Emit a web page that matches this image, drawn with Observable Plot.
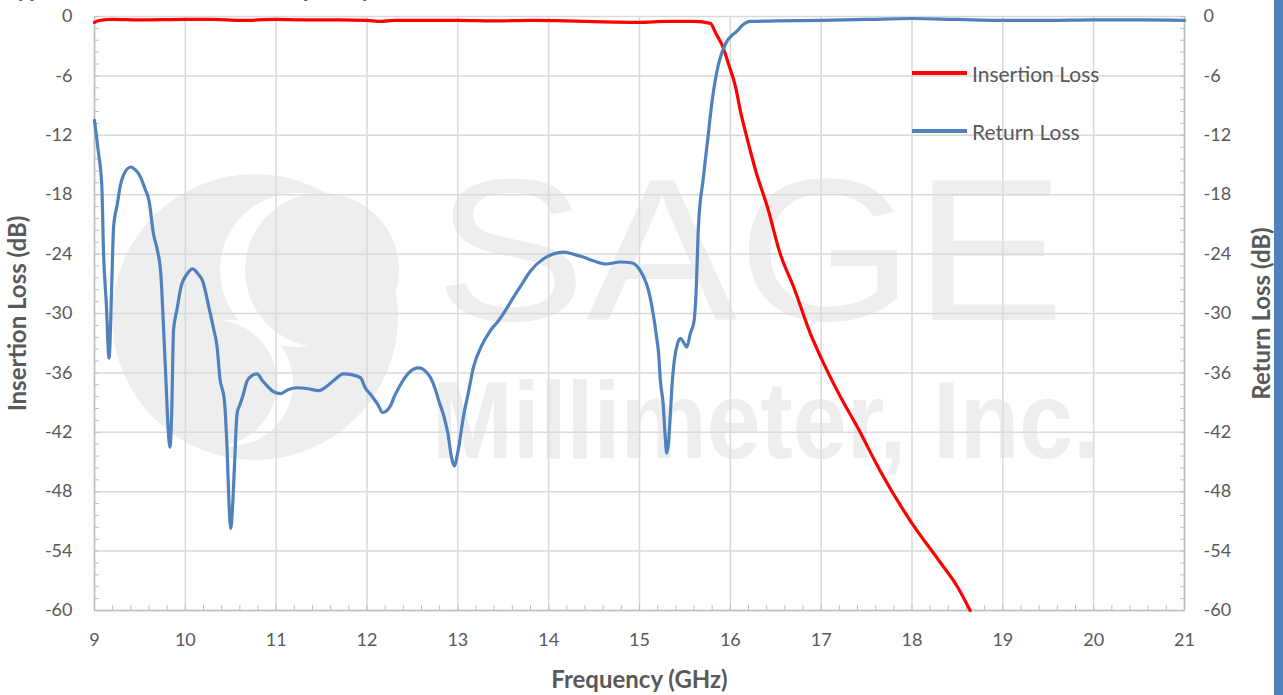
<!DOCTYPE html>
<html>
<head>
<meta charset="utf-8">
<script src="https://cdn.jsdelivr.net/npm/d3@7"></script>
<script src="https://cdn.jsdelivr.net/npm/@observablehq/plot@0.6"></script>
<style>
  html, body { margin: 0; padding: 0; background: #fff; overflow: hidden; }
  #wrap { position: relative; width: 1283px; height: 695px; overflow: hidden; font-family: Lato, "Open Sans", sans-serif; }
  #wm { position: absolute; left: 0; top: 0; }
  #chart { position: absolute; left: 0; top: 0; }
  #title { position: absolute; left: 4px; top: -24px; font: bold 24px Lato, sans-serif; color: #595959; line-height: 24px; white-space: nowrap; }
  #bar { position: absolute; right: 0; top: 0; width: 9px; height: 695px; background: #4F81BD; }
  .leg { position: absolute; left: 912px; font-size: 21px; color: #595959; display: flex; align-items: center; height: 24px; }
  .leg span.sw { display: inline-block; width: 55px; height: 3.5px; margin-right: 5px; }
</style>
</head>
<body>
<div id="wrap">
  <svg id="wm" width="1283" height="695">
    <circle cx="255" cy="317" r="143" fill="#eeeeee"/>
    <circle cx="297" cy="270" r="77" fill="#ffffff"/>
    <circle cx="322" cy="270" r="77" fill="#eeeeee"/>
    <circle cx="230" cy="383" r="63" fill="#ffffff"/>
    <circle cx="214" cy="383" r="63" fill="#eeeeee"/>
    <text x="435" y="320" font-family="Liberation Sans, Arial, sans-serif" font-size="202" fill="#eeeeee" textLength="630" lengthAdjust="spacingAndGlyphs">SAGE</text>
    <text x="432" y="458" font-family="Liberation Sans, Arial, sans-serif" font-weight="bold" font-size="109" fill="#eeeeee" textLength="668" lengthAdjust="spacingAndGlyphs">Millimeter, Inc.</text>
  </svg>
  <div id="chart"></div>
  <div id="title">Typical Performance vs. Frequency</div>
  <div class="leg" style="top:61px"><span class="sw" style="background:#FF0000"></span>Insertion Loss</div>
  <div class="leg" style="top:119px"><span class="sw" style="background:#4F81BD"></span>Return Loss</div>
  <div id="bar"></div>
</div>
<script>
// ---- data ----
const rlFreq = [9.00,9.04,9.08,9.10,9.13,9.16,9.19,9.21,9.25,9.28,9.33,9.40,9.45,9.50,9.56,9.60,9.65,9.69,9.73,9.76,9.79,9.81,9.83,9.85,9.87,9.91,9.95,10.02,10.08,10.14,10.19,10.26,10.31,10.35,10.38,10.43,10.46,10.48,10.50,10.52,10.54,10.57,10.61,10.64,10.68,10.73,10.79,10.85,10.90,10.97,11.05,11.13,11.23,11.35,11.47,11.55,11.63,11.74,11.84,11.93,11.98,12.05,12.12,12.17,12.22,12.26,12.30,12.35,12.46,12.57,12.65,12.70,12.75,12.79,12.85,12.89,12.93,12.96,13.00,13.06,13.12,13.17,13.26,13.36,13.45,13.53,13.61,13.70,13.80,13.94,14.05,14.16,14.27,14.38,14.50,14.63,14.79,14.92,15.01,15.06,15.10,15.15,15.19,15.21,15.23,15.26,15.28,15.30,15.32,15.34,15.36,15.38,15.42,15.45,15.49,15.52,15.56,15.60,15.62,15.65,15.70,15.75,15.80,15.87,15.95,16.03,16.06,16.13,16.22,16.5,17.0,17.5,18.0,18.5,19.0,19.5,20.0,20.5,21.0];
const rlDb = [-10.5,-13.5,-17.0,-24.0,-29.0,-34.5,-27.0,-21.3,-19.0,-17.3,-15.8,-15.2,-15.5,-16.1,-17.5,-18.6,-22.0,-23.5,-26.0,-31.4,-37.5,-41.5,-43.5,-40.0,-31.7,-29.5,-27.4,-26.0,-25.5,-26.0,-26.7,-29.4,-31.5,-33.4,-36.5,-38.8,-43.8,-49.0,-51.7,-49.5,-45.6,-40.1,-39.0,-38.1,-36.8,-36.3,-36.1,-36.8,-37.3,-37.9,-38.1,-37.7,-37.5,-37.6,-37.8,-37.4,-36.8,-36.1,-36.2,-36.5,-37.5,-38.3,-39.2,-40.0,-39.8,-39.3,-38.4,-37.5,-36.0,-35.5,-35.9,-36.5,-37.6,-38.8,-40.5,-42.1,-44.5,-45.4,-44.0,-40.5,-37.8,-35.5,-33.3,-31.7,-30.7,-29.6,-28.4,-27.1,-25.7,-24.5,-24.0,-23.8,-24.0,-24.3,-24.7,-25.0,-24.8,-24.9,-25.7,-26.6,-27.7,-30.0,-32.5,-34.0,-36.8,-39.1,-42.0,-44.1,-43.0,-40.1,-37.0,-35.0,-33.0,-32.5,-33.0,-33.4,-32.0,-30.8,-28.4,-21.0,-16.5,-12.5,-8.5,-4.8,-2.7,-1.8,-1.6,-0.9,-0.5,-0.45,-0.4,-0.3,-0.2,-0.3,-0.4,-0.4,-0.35,-0.35,-0.4];

const ilFreq = [9.00,9.05,9.2,9.5,10.0,10.3,10.6,11.0,11.3,11.7,12.0,12.15,12.3,12.7,13.0,13.4,13.8,14.2,14.6,15.0,15.3,15.6,15.78,15.84,15.91,15.98,16.06,16.11,16.19,16.28,16.41,16.55,16.70,16.88,17.0,17.2,17.4,17.65,18.0,18.3,18.5,18.64];
const ilDb = [-0.6,-0.4,-0.3,-0.35,-0.3,-0.3,-0.4,-0.3,-0.35,-0.35,-0.4,-0.5,-0.4,-0.4,-0.4,-0.45,-0.4,-0.45,-0.55,-0.6,-0.5,-0.5,-0.7,-1.7,-2.9,-4.8,-7.2,-9.5,-12.5,-15.6,-19.3,-24.0,-27.4,-32.0,-34.5,-38.2,-41.5,-45.9,-51.2,-55.0,-57.6,-60.0];

const xTicks = [9,10,11,12,13,14,15,16,17,18,19,20,21];
const yTicks = [0,-6,-12,-18,-24,-30,-36,-42,-48,-54,-60];
const xMinor = d3.range(9, 21.001, 0.2).map(v => +v.toFixed(1));
const yMinor = d3.range(0, -60.001, -1.2).map(v => +v.toFixed(1));

const rlRows = rlFreq.map((f, i) => ({f, db: rlDb[i]}));
const ilRows = ilFreq.map((f, i) => ({f, db: ilDb[i]}));

const grid = "#d9d9d9";
const axisCol = "#bfbfbf";

const chart = Plot.plot({
  width: 1283,
  height: 695,
  marginLeft: 94,
  marginRight: 99,
  marginTop: 16,
  marginBottom: 85,
  style: {background: "transparent", color: "#595959", fontFamily: "Lato, 'Open Sans', sans-serif", fontSize: "18px"},
  x: {domain: [9, 21]},
  y: {domain: [-60, 0]},
  marks: [
    Plot.gridX(xTicks, {stroke: grid, strokeOpacity: 1, strokeWidth: 1.5}),
    Plot.gridY(yTicks, {stroke: grid, strokeOpacity: 1, strokeWidth: 1.5}),
    Plot.axisX({ticks: xMinor, tickSize: 5, dy: -5, text: null, label: null, stroke: axisCol}),
    Plot.axisY({ticks: yMinor, tickSize: 5, dx: 5, text: null, label: null, stroke: axisCol, anchor: "left"}),
    Plot.axisY({ticks: yMinor, tickSize: 5, dx: -5, text: null, label: null, stroke: axisCol, anchor: "right"}),
    Plot.ruleX([9, 21], {stroke: axisCol, strokeWidth: 1.5}),
    Plot.ruleY([-60], {stroke: axisCol, strokeWidth: 1.5}),
    Plot.axisX({ticks: xTicks, tickSize: 0, tickPadding: 23, tickFormat: d => String(d), label: null, fontSize: 18}),
    Plot.axisY({ticks: yTicks, tickSize: 0, tickPadding: 22, tickFormat: d => String(d), label: null, anchor: "left", fontSize: 18}),
    Plot.axisY({ticks: yTicks, tickSize: 0, tickPadding: 19, tickFormat: d => String(d), label: null, anchor: "right", fontSize: 18}),
    Plot.line(ilRows, {x: "f", y: "db", stroke: "#FF0000", strokeWidth: 3.2, curve: "monotone-x"}),
    Plot.line(rlRows, {x: "f", y: "db", stroke: "#4F81BD", strokeWidth: 3.2, curve: "monotone-x"}),
    Plot.text(["Insertion Loss (dB)"], {frameAnchor: "left", dx: -76, rotate: -90, textAnchor: "middle", lineAnchor: "middle", fontWeight: "bold", fontSize: 24, fill: "#595959"}),
    Plot.text(["Return Loss (dB)"], {frameAnchor: "right", dx: 78, rotate: -90, textAnchor: "middle", lineAnchor: "middle", fontWeight: "bold", fontSize: 24, fill: "#595959"}),
    Plot.text(["Frequency (GHz)"], {frameAnchor: "bottom", dy: 70, textAnchor: "middle", lineAnchor: "middle", fontWeight: "bold", fontSize: 24, fill: "#595959"})
  ]
});
document.getElementById("chart").appendChild(chart);
</script>
</body>
</html>
